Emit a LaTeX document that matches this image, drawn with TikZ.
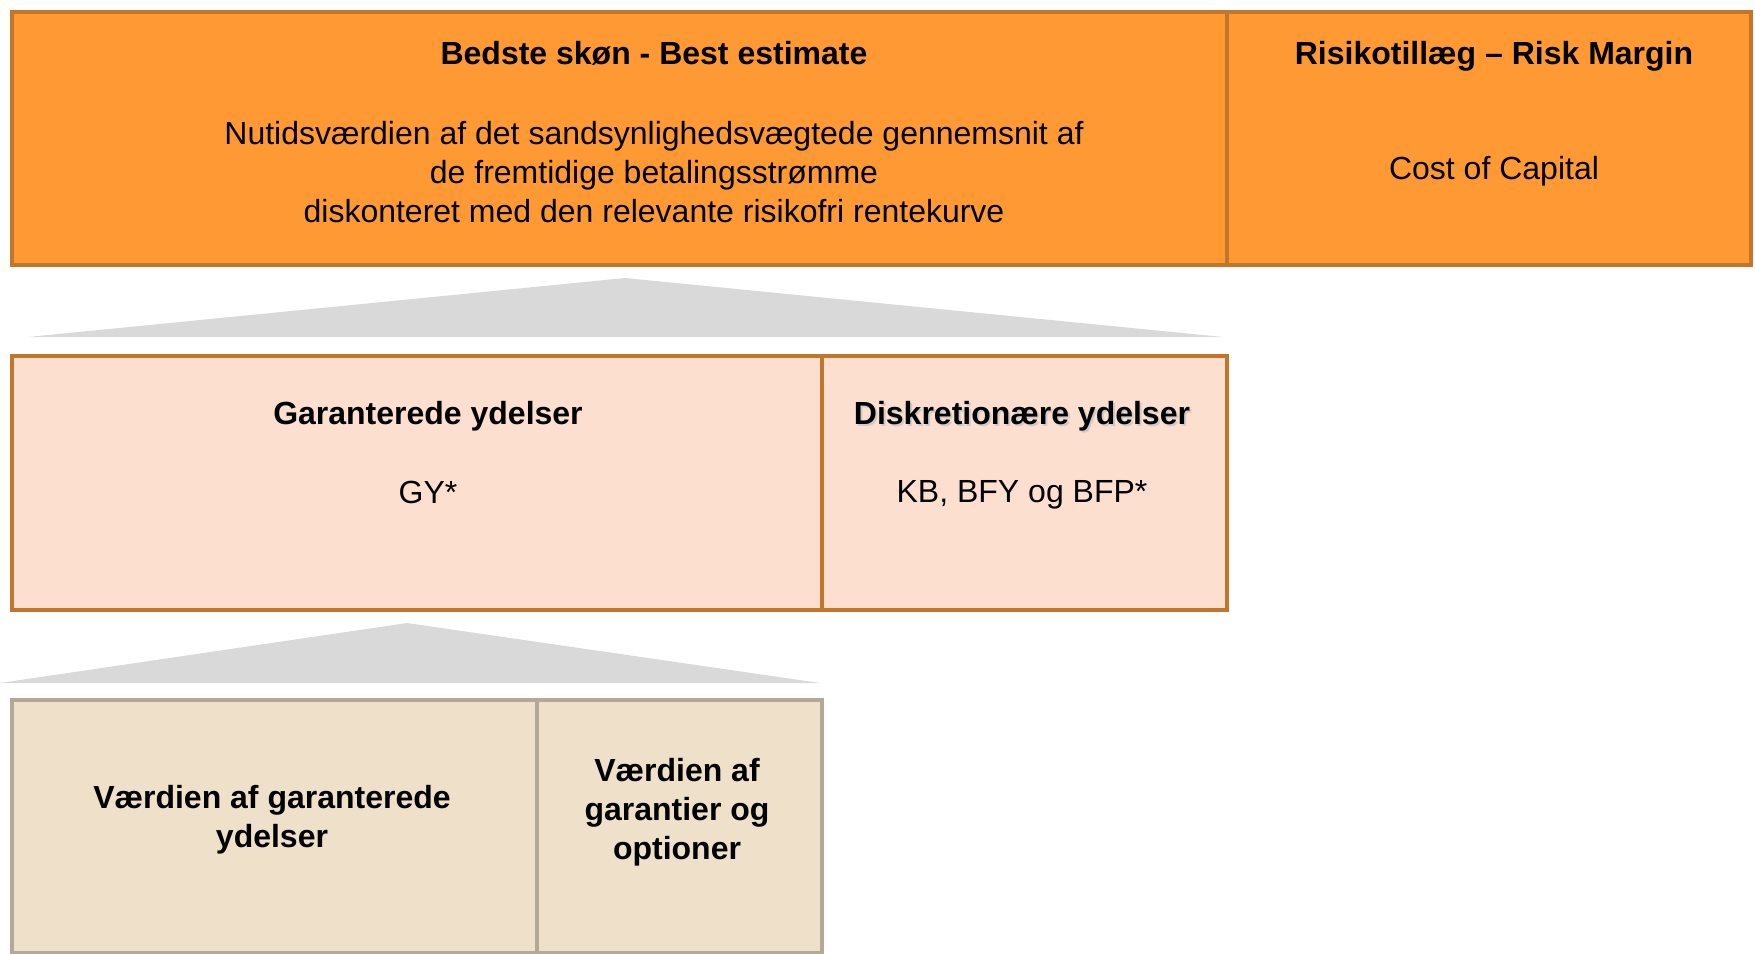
\documentclass[tikz,border=0pt]{standalone}
\usepackage{fontspec}
\setmainfont{Liberation Sans}
\definecolor{bestorange}{RGB}{255, 153, 51}
\definecolor{rimbrown}{RGB}{193, 118, 44}
\definecolor{peach1}{RGB}{253, 223, 207}
\definecolor{beige1}{RGB}{239, 224, 202}
\definecolor{beigerim}{RGB}{180, 168, 153}
\definecolor{wedgegray}{RGB}{217, 217, 217}
\usetikzlibrary{positioning}

\begin{document}
\begin{tikzpicture}[x=1pt, y=-1pt,
    cell/.style={rectangle, draw=rimbrown, line width=4pt, anchor=north west, inner sep=0pt},
    bluebox/.style={cell, fill=bestorange},
    peachbox/.style={cell, fill=peach1},
    beigebox/.style={cell, draw=beigerim, fill=beige1},
    label/.style={font=\fontsize{32}{39}\selectfont, align=center, inner sep=0pt},
    head/.style={label, font=\fontsize{32}{39}\selectfont\bfseries}]
  \useasboundingbox (0,0) rectangle (1755,953);

  % Best estimate and risk margin
  \node[bluebox, minimum width=1215pt, minimum height=253pt] (best) at (10,9.5) {};
  \node[bluebox, minimum width=524pt, minimum height=253pt] (risk) at (1225,9.5) {};
  \node[head] (besthead) at (654,53) {Bedste skøn - Best estimate};
  \node[label] (bestbody) at (654,172) {Nutidsværdien af det sandsynlighedsvægtede gennemsnit af\\de fremtidige betalingsstrømme\\diskonteret med den relevante risikofri rentekurve};
  \node[head] (riskhead) at (1494,56) {Risikotillæg – Risk Margin};
  \node[label] (riskbody) at (1494,171) {Cost of Capital};

  % wedge
  \fill[wedgegray] (28,337) -- (625,278) -- (1223,337) -- cycle;

  % Guaranteed and discretionary benefits
  \node[peachbox, minimum width=810pt, minimum height=254pt] (gar) at (10,354) {};
  \node[peachbox, minimum width=405pt, minimum height=254pt] (disk) at (820,354) {};
  \node[head] (garhead) at (428,416) {Garanterede ydelser};
  \node[label] (garbody) at (428,492) {GY*};
  \node[head, text=gray!45, opacity=0.8] (diskshadow) at (1024,418) {Diskretionære ydelser};
  \node[head] (diskhead) at (1022,416) {Diskretionære ydelser};
  \node[label] (diskbody) at (1022,495) {KB, BFY og BFP*};

  % wedge
  \fill[wedgegray] (0,683) -- (407,623) -- (820,683) -- cycle;

  % Value of guarantees
  \node[beigebox, minimum width=525pt, minimum height=252.5pt] (vgar) at (10,698) {};
  \node[beigebox, minimum width=285pt, minimum height=252.5pt] (vopt) at (535,698) {};
  \node[head] (vgartext) at (272,820) {Værdien af garanterede\\ydelser};
  \node[head] (vopttext) at (677,812) {Værdien af\\garantier og\\optioner};
\end{tikzpicture}
\end{document}
